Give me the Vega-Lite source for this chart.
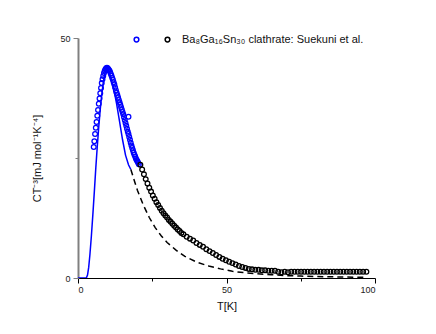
{
  "$schema": "https://vega.github.io/schema/vega-lite/v6.json",
  "width": 297,
  "height": 240,
  "autosize": {"type": "none"},
  "padding": {"left": 78, "top": 38, "right": 61, "bottom": 56},
  "background": "white",
  "config": {"view": {"stroke": null}, "font": "Liberation Sans"},
  "datasets": {
    "solid": [
      {"T": 0, "CT": 0}, {"T": 2, "CT": 0}, {"T": 2.8, "CT": 0}, {"T": 3.2, "CT": 0.6}, {"T": 3.6, "CT": 2.2},
      {"T": 4.0, "CT": 4.8}, {"T": 4.5, "CT": 8.7}, {"T": 5.0, "CT": 13.2}, {"T": 5.5, "CT": 18.0},
      {"T": 6.0, "CT": 23.0}, {"T": 6.5, "CT": 27.5}, {"T": 7.0, "CT": 31.6}, {"T": 7.5, "CT": 35.2},
      {"T": 8.0, "CT": 38.2}, {"T": 8.5, "CT": 40.7}, {"T": 9.0, "CT": 42.5}, {"T": 9.5, "CT": 43.5},
      {"T": 10.0, "CT": 43.6}, {"T": 10.5, "CT": 43.0}, {"T": 11.0, "CT": 41.9}, {"T": 11.5, "CT": 40.6},
      {"T": 12.0, "CT": 39.3}, {"T": 12.5, "CT": 37.9}, {"T": 13.0, "CT": 36.3}, {"T": 14.0, "CT": 32.6},
      {"T": 15.0, "CT": 28.8}, {"T": 16.0, "CT": 25.6}, {"T": 17.0, "CT": 23.6}, {"T": 17.8, "CT": 22.6}
    ],
    "dashed": [
      {"T": 17.8, "CT": 22.6}, {"T": 19, "CT": 20.2}, {"T": 20, "CT": 18.3}, {"T": 22, "CT": 15.2},
      {"T": 24, "CT": 12.6}, {"T": 26, "CT": 10.5}, {"T": 28, "CT": 8.8}, {"T": 30, "CT": 7.4},
      {"T": 33, "CT": 5.8}, {"T": 36, "CT": 4.5}, {"T": 40, "CT": 3.3}, {"T": 44, "CT": 2.5},
      {"T": 48, "CT": 1.9}, {"T": 52, "CT": 1.4}, {"T": 56, "CT": 1.1}, {"T": 60, "CT": 0.9},
      {"T": 65, "CT": 0.7}, {"T": 70, "CT": 0.5}, {"T": 75, "CT": 0.4}, {"T": 80, "CT": 0.3},
      {"T": 85, "CT": 0.25}, {"T": 90, "CT": 0.2}, {"T": 97, "CT": 0.15}
    ],
    "exp": [
      {"T": 5.3, "CT": 27.3, "set": "low"}, {"T": 5.5, "CT": 28.5, "set": "low"}, {"T": 5.75, "CT": 30.0, "set": "low"},
      {"T": 6.0, "CT": 31.3, "set": "low"}, {"T": 6.25, "CT": 32.5, "set": "low"}, {"T": 6.5, "CT": 33.8, "set": "low"},
      {"T": 6.75, "CT": 35.0, "set": "low"}, {"T": 7.0, "CT": 36.3, "set": "low"}, {"T": 7.25, "CT": 37.4, "set": "low"},
      {"T": 7.5, "CT": 38.5, "set": "low"}, {"T": 7.75, "CT": 39.6, "set": "low"}, {"T": 8.0, "CT": 40.6, "set": "low"},
      {"T": 8.25, "CT": 41.4, "set": "low"}, {"T": 8.5, "CT": 42.1, "set": "low"}, {"T": 8.75, "CT": 42.7, "set": "low"},
      {"T": 9.0, "CT": 43.2, "set": "low"}, {"T": 9.25, "CT": 43.5, "set": "low"}, {"T": 9.5, "CT": 43.7, "set": "low"},
      {"T": 9.75, "CT": 43.8, "set": "low"}, {"T": 10.0, "CT": 43.7, "set": "low"}, {"T": 10.25, "CT": 43.5, "set": "low"},
      {"T": 10.5, "CT": 43.3, "set": "low"}, {"T": 10.75, "CT": 43.0, "set": "low"}, {"T": 11.0, "CT": 42.6, "set": "low"},
      {"T": 11.25, "CT": 42.2, "set": "low"}, {"T": 11.5, "CT": 41.7, "set": "low"}, {"T": 11.75, "CT": 41.3, "set": "low"},
      {"T": 12.0, "CT": 40.8, "set": "low"}, {"T": 12.25, "CT": 40.3, "set": "low"}, {"T": 12.5, "CT": 39.7, "set": "low"},
      {"T": 12.75, "CT": 39.1, "set": "low"}, {"T": 13.0, "CT": 38.6, "set": "low"}, {"T": 13.25, "CT": 38.1, "set": "low"},
      {"T": 13.5, "CT": 37.6, "set": "low"}, {"T": 13.75, "CT": 37.1, "set": "low"}, {"T": 14.0, "CT": 36.6, "set": "low"},
      {"T": 14.25, "CT": 36.1, "set": "low"}, {"T": 14.5, "CT": 35.6, "set": "low"}, {"T": 14.75, "CT": 35.1, "set": "low"},
      {"T": 15.0, "CT": 34.6, "set": "low"}, {"T": 15.25, "CT": 34.1, "set": "low"}, {"T": 15.5, "CT": 33.5, "set": "low"},
      {"T": 15.75, "CT": 32.9, "set": "low"}, {"T": 16.0, "CT": 32.3, "set": "low"}, {"T": 16.25, "CT": 31.7, "set": "low"},
      {"T": 16.5, "CT": 31.1, "set": "low"}, {"T": 16.75, "CT": 30.5, "set": "low"}, {"T": 17.0, "CT": 30.0, "set": "low"},
      {"T": 17.0, "CT": 33.6, "set": "low"},
      {"T": 17.25, "CT": 29.4, "set": "low"}, {"T": 17.5, "CT": 28.8, "set": "low"}, {"T": 17.75, "CT": 28.2, "set": "low"},
      {"T": 18.0, "CT": 27.6, "set": "low"}, {"T": 18.25, "CT": 27.1, "set": "low"}, {"T": 18.5, "CT": 26.6, "set": "low"},
      {"T": 18.75, "CT": 26.1, "set": "low"}, {"T": 19.0, "CT": 25.7, "set": "low"}, {"T": 19.25, "CT": 25.3, "set": "low"},
      {"T": 19.5, "CT": 24.9, "set": "low"}, {"T": 19.75, "CT": 24.6, "set": "low"}, {"T": 20.0, "CT": 24.3, "set": "low"},
      {"T": 20.25, "CT": 24.0, "set": "low"}, {"T": 20.5, "CT": 23.7, "set": "low"},
      {"T": 21.0, "CT": 23.6, "set": "high"}, {"T": 21.6, "CT": 22.6, "set": "high"}, {"T": 22.2, "CT": 21.6, "set": "high"},
      {"T": 22.8, "CT": 20.6, "set": "high"}, {"T": 23.4, "CT": 19.7, "set": "high"}, {"T": 24.0, "CT": 18.8, "set": "high"},
      {"T": 24.6, "CT": 18.0, "set": "high"}, {"T": 25.2, "CT": 17.2, "set": "high"}, {"T": 25.8, "CT": 16.5, "set": "high"},
      {"T": 26.4, "CT": 15.8, "set": "high"}, {"T": 27.0, "CT": 15.2, "set": "high"}, {"T": 27.6, "CT": 14.6, "set": "high"},
      {"T": 28.2, "CT": 14.0, "set": "high"}, {"T": 28.8, "CT": 13.5, "set": "high"}, {"T": 29.4, "CT": 13.0, "set": "high"},
      {"T": 30.0, "CT": 12.6, "set": "high"}, {"T": 30.6, "CT": 12.1, "set": "high"}, {"T": 31.2, "CT": 11.7, "set": "high"},
      {"T": 31.8, "CT": 11.3, "set": "high"}, {"T": 32.4, "CT": 10.9, "set": "high"}, {"T": 33.0, "CT": 10.5, "set": "high"},
      {"T": 33.6, "CT": 10.1, "set": "high"}, {"T": 34.2, "CT": 9.8, "set": "high"}, {"T": 34.8, "CT": 9.4, "set": "high"},
      {"T": 35.5, "CT": 9.1, "set": "high"}, {"T": 36.6, "CT": 8.6, "set": "high"}, {"T": 37.7, "CT": 8.2, "set": "high"},
      {"T": 38.8, "CT": 7.8, "set": "high"}, {"T": 39.9, "CT": 7.3, "set": "high"}, {"T": 41.0, "CT": 6.9, "set": "high"},
      {"T": 42.1, "CT": 6.5, "set": "high"}, {"T": 43.2, "CT": 6.0, "set": "high"}, {"T": 44.3, "CT": 5.6, "set": "high"},
      {"T": 45.4, "CT": 5.2, "set": "high"}, {"T": 46.5, "CT": 4.8, "set": "high"}, {"T": 47.6, "CT": 4.4, "set": "high"},
      {"T": 48.7, "CT": 4.0, "set": "high"}, {"T": 49.8, "CT": 3.7, "set": "high"}, {"T": 50.9, "CT": 3.4, "set": "high"},
      {"T": 52.0, "CT": 3.1, "set": "high"}, {"T": 53.1, "CT": 2.8, "set": "high"}, {"T": 54.2, "CT": 2.5, "set": "high"},
      {"T": 55.3, "CT": 2.3, "set": "high"}, {"T": 56.4, "CT": 2.1, "set": "high"}, {"T": 57.5, "CT": 1.9, "set": "high"},
      {"T": 58.6, "CT": 1.8, "set": "high"}, {"T": 59.7, "CT": 1.7, "set": "high"}, {"T": 60.8, "CT": 1.7, "set": "high"},
      {"T": 61.9, "CT": 1.6, "set": "high"}, {"T": 63.0, "CT": 1.6, "set": "high"}, {"T": 64.1, "CT": 1.5, "set": "high"},
      {"T": 65.2, "CT": 1.5, "set": "high"}, {"T": 66.3, "CT": 1.5, "set": "high"}, {"T": 67.4, "CT": 1.3, "set": "high"},
      {"T": 68.5, "CT": 1.2, "set": "high"}, {"T": 69.6, "CT": 1.3, "set": "high"}, {"T": 70.7, "CT": 1.2, "set": "high"},
      {"T": 71.8, "CT": 1.3, "set": "high"}, {"T": 72.9, "CT": 1.3, "set": "high"}, {"T": 74.0, "CT": 1.3, "set": "high"},
      {"T": 75.1, "CT": 1.3, "set": "high"}, {"T": 76.2, "CT": 1.3, "set": "high"}, {"T": 77.3, "CT": 1.3, "set": "high"},
      {"T": 78.4, "CT": 1.3, "set": "high"}, {"T": 79.5, "CT": 1.3, "set": "high"}, {"T": 80.6, "CT": 1.3, "set": "high"},
      {"T": 81.7, "CT": 1.3, "set": "high"}, {"T": 82.8, "CT": 1.3, "set": "high"}, {"T": 83.9, "CT": 1.3, "set": "high"},
      {"T": 85.0, "CT": 1.3, "set": "high"}, {"T": 86.1, "CT": 1.3, "set": "high"}, {"T": 87.2, "CT": 1.3, "set": "high"},
      {"T": 88.3, "CT": 1.3, "set": "high"}, {"T": 89.4, "CT": 1.3, "set": "high"}, {"T": 90.5, "CT": 1.3, "set": "high"},
      {"T": 91.6, "CT": 1.3, "set": "high"}, {"T": 92.7, "CT": 1.3, "set": "high"}, {"T": 93.8, "CT": 1.3, "set": "high"},
      {"T": 94.9, "CT": 1.3, "set": "high"}, {"T": 96.0, "CT": 1.3, "set": "high"}, {"T": 97.1, "CT": 1.3, "set": "high"}
    ]
  },
  "encoding": {
    "x": {
      "field": "T", "type": "quantitative",
      "scale": {"domain": [0, 100], "nice": false, "zero": false},
      "axis": {
        "title": "T[K]", "values": [0, 25, 50, 75, 100],
        "labelExpr": "datum.value % 50 == 0 ? datum.label : ''",
        "grid": false, "domainColor": "#000000", "domainWidth": 1,
        "tickColor": "#000000", "tickWidth": 1,
        "tickSize": {"condition": {"test": "datum.value % 50 != 0", "value": 3}, "value": 5},
        "labelFontSize": 9, "labelColor": "#222222", "labelPadding": 2, "labelFont": "Liberation Sans",
        "titleFontSize": 11, "titleFontWeight": "normal", "titleColor": "#111111", "titlePadding": 6, "titleFont": "Liberation Sans"
      }
    },
    "y": {
      "field": "CT", "type": "quantitative",
      "scale": {"domain": [0, 50], "nice": false},
      "axis": {
        "title": "CT⁻³[mJ mol⁻¹K⁻⁴]", "values": [0, 25, 50],
        "labelExpr": "datum.value % 50 == 0 ? datum.label : ''",
        "grid": false, "domainColor": "#808080", "domainWidth": 2,
        "tickColor": "#808080", "tickWidth": 1,
        "tickSize": {"condition": {"test": "datum.value % 50 != 0", "value": 3}, "value": 5},
        "labelFontSize": 9, "labelColor": "#222222", "labelPadding": 3, "labelFont": "Liberation Sans",
        "titleFontSize": 11, "titleFontWeight": "normal", "titleColor": "#111111", "titlePadding": 17, "titleFont": "Liberation Sans"
      }
    }
  },
  "layer": [
    {
      "data": {"name": "solid"},
      "mark": {"type": "line", "color": "#0000ff", "strokeWidth": 1.5, "clip": true}
    },
    {
      "data": {"name": "dashed"},
      "mark": {"type": "line", "color": "#000000", "strokeWidth": 1.5, "strokeDash": [6, 4]}
    },
    {
      "data": {"name": "exp"},
      "mark": {"type": "point", "shape": "circle", "filled": false, "size": 22, "strokeWidth": 1.3, "opacity": 1},
      "encoding": {
        "stroke": {
          "field": "set", "type": "nominal",
          "scale": {"domain": ["low", "high"], "range": ["#0000ff", "#000000"]},
          "legend": {
            "title": null, "orient": "none", "direction": "horizontal",
            "legendX": 53, "legendY": -4, "padding": 0,
            "symbolType": "circle", "symbolSize": 22, "symbolStrokeWidth": 1.5, "symbolFillColor": "transparent",
            "columnPadding": 11, "labelOffset": 9,
            "labelFontSize": 11, "labelColor": "#111111", "labelFont": "Liberation Sans", "labelLimit": 300,
            "labelExpr": "datum.value == 'low' ? '' : 'Ba₈Ga₁₆Sn₃₀ clathrate: Suekuni et al.'"
          }
        }
      }
    }
  ]
}
